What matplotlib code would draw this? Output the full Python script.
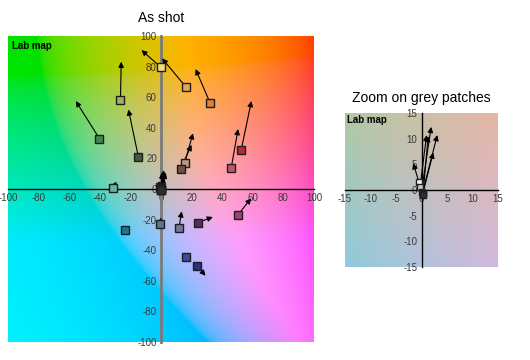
import matplotlib
matplotlib.use('Agg')
import matplotlib.pyplot as plt
import numpy as np

plt.rcParams['font.family'] = ['Liberation Sans', 'DejaVu Sans']
plt.rcParams['axes.unicode_minus'] = False

# ─── Data: colour patches (a*, b*) as shot -> target ───────────
patch_a = [0, 16.5, 32.2, -26.5, -40.2, -14.8, 52.4, 45.9, 15.4, 12.8,
           -31.5, -0.7, 11.7, 23.9, 50.2, -23.7, 16.3, 23.5]
patch_b = [79.5, 66.4, 56.0, 58.0, 32.9, 21.1, 25.5, 13.9, 16.8, 13.3,
           0.7, -22.6, -25.7, -22.0, -17.0, -26.7, -44.3, -50.2]
target_a = [-12.8, 0.7, 22.6, -26.0, -55.7, -21.3, 59.1, 50.4, 20.9, 20.0,
            -29.1, 0.0, 13.5, 33.9, 58.9, -23.7, 18.5, 29.1]
target_b = [90.8, 85.4, 78.4, 83.2, 57.5, 52.0, 57.5, 39.2, 36.4, 28.8,
            4.8, -18.7, -14.6, -18.3, -6.1, -26.7, -46.0, -56.7]
patch_colors = ['#f2dc7a', '#e0a458', '#d8823a', '#a4b05a', '#3f8a48', '#46583a',
                '#b0283a', '#c45466', '#c29484', '#6e4e48', '#6cb4a4', '#5e7492',
                '#7474a0', '#4e3060', '#a0407c', '#1c7890', '#404a96', '#2c2e82']

# grey patches
grey_a = [-0.5, -0.3, 0.0, 0.2, 0.3, 0.2]
grey_b = [1.5, 0.5, -0.3, -0.5, -0.8, -0.9]
grey_target_a = [-1.6, 1.0, 1.9, 3.1, 1.3, 2.3]
grey_target_b = [5.2, 10.7, 12.3, 10.7, 10.5, 7.3]
grey_colors = ['#f4f4f4', '#c8c8c8', '#9e9e9e', '#767676', '#4e4e4e', '#2e2e2e']


def lab_background(lim, L=78.0, n=240):
    a = np.linspace(-lim, lim, n)
    b = np.linspace(-lim, lim, n)
    A, B = np.meshgrid(a, b)
    fy = (L + 16) / 116
    fx = fy + A / 500
    fz = fy - B / 200

    def finv(t):
        return np.where(t > 6 / 29, t ** 3, 3 * (6 / 29) ** 2 * (t - 4 / 29))
    X = 0.9505 * finv(fx)
    Y = finv(np.full_like(A, fy))
    Z = 1.089 * finv(fz)
    R = 3.2406 * X - 1.5372 * Y - 0.4986 * Z
    G = -0.9689 * X + 1.8758 * Y + 0.0415 * Z
    Bl = 0.0557 * X - 0.2040 * Y + 1.0570 * Z
    rgb = np.clip(np.stack([R, G, Bl], axis=-1), 0, 1)
    rgb = np.where(rgb <= 0.0031308, 12.92 * rgb, 1.055 * rgb ** (1 / 2.4) - 0.055)
    return np.clip(rgb, 0, 1)


def draw_map(ax, lim, step, xa, xb, ta, tb, cols, msize, vcolor, vlw):
    ax.imshow(lab_background(lim), extent=[-lim, lim, -lim, lim], origin='lower',
              aspect='auto', zorder=0)
    ax.set_xlim(-lim, lim)
    ax.set_ylim(-lim, lim)
    for s in ['right', 'top']:
        ax.spines[s].set_visible(False)
    ax.spines['left'].set_position('zero')
    ax.spines['bottom'].set_position('zero')
    ax.spines['left'].set_color(vcolor)
    ax.spines['left'].set_linewidth(vlw)
    ax.spines['bottom'].set_color('black')
    ax.spines['bottom'].set_linewidth(1)
    ticks = np.arange(-lim, lim + 1, step)
    ax.set_xticks(ticks)
    ax.set_yticks(ticks)
    ax.tick_params(length=0, labelsize=7, labelcolor='#3a3a3a', pad=3)
    for a0, b0, a1, b1 in zip(xa, xb, ta, tb):
        if (a0, b0) == (a1, b1):
            continue
        ax.annotate('', xy=(a1, b1), xytext=(a0, b0),
                    arrowprops=dict(arrowstyle='-|>', color='black', lw=0.8,
                                    mutation_scale=8, shrinkA=0, shrinkB=0),
                    zorder=3)
    for a0, b0, c in zip(xa, xb, cols):
        ax.plot(a0, b0, marker='s', ms=msize, mfc=c, mec='#1e1e1e', mew=1.0,
                ls='none', zorder=4)
    ax.text(0.012, 0.985, 'Lab map', transform=ax.transAxes, fontsize=7,
            fontweight='bold', ha='left', va='top', zorder=5)


fig = plt.figure(figsize=(5.3, 3.6), dpi=100)
fig.patch.set_facecolor('white')

ax1 = fig.add_axes([8 / 530, 18 / 360, 306 / 530, 306 / 360])
draw_map(ax1, 100, 20,
         patch_a + grey_a, patch_b + grey_b,
         target_a + grey_target_a, target_b + grey_target_b,
         patch_colors + grey_colors, 6.2, '#7a7a7a', 2)

ax2 = fig.add_axes([345 / 530, 93 / 360, 153 / 530, 154 / 360])
draw_map(ax2, 15, 5, grey_a, grey_b, grey_target_a, grey_target_b,
         grey_colors, 5, 'black', 1)

fig.text(161 / 530, 1 - 18 / 360, 'As shot', ha='center', va='center', fontsize=10)
fig.text(421 / 530, 1 - 98 / 360, 'Zoom on grey patches', ha='center', va='center',
         fontsize=10)

plt.savefig('out.png', dpi=100, facecolor='white')
plt.close()
